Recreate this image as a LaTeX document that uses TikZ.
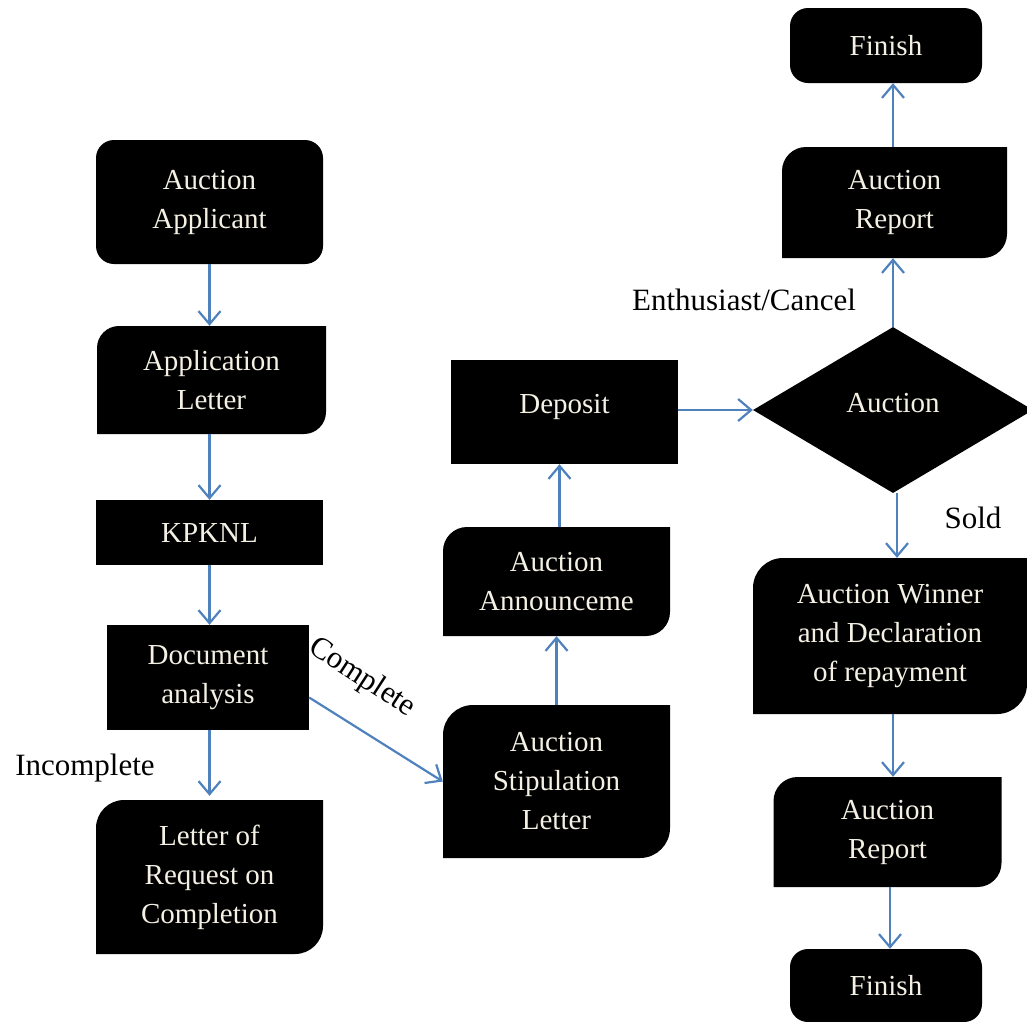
\documentclass[tikz,border=0pt]{standalone}
\usepackage{fontspec}
\setmainfont{Liberation Serif}
\usetikzlibrary{arrows.meta,shapes.geometric}
\definecolor{arrowblue}{HTML}{4F81BD}
\definecolor{boxtext}{HTML}{F4F1E4}
% shape with rounded top-left and bottom-right corners: x1 y1 x2 y2 r (y grows downward)
\newcommand\rdshape[5]{%
  \fill[black] ({#1},{#2+#5}) .. controls ({#1},{#2+0.448*#5}) and ({#1+0.448*#5},{#2}) .. ({#1+#5},{#2})
    -- ({#3},{#2}) -- ({#3},{#4-#5})
    .. controls ({#3},{#4-0.448*#5}) and ({#3-0.448*#5},{#4}) .. ({#3-#5},{#4})
    -- ({#1},{#4}) -- cycle;}
\begin{document}
\begin{tikzpicture}[x=1pt,y=-1pt,
  box/.style={inner sep=0pt, text=boxtext, align=center, font=\fontsize{29}{39}\selectfont},
  sqbox/.style={box, fill=black},
  rndbox/.style={box, fill=black, rounded corners=18pt},
  diabox/.style={box, fill=black, shape=diamond},
  flow/.style={draw=arrowblue, line width=2.2pt, -{Straight Barb[length=13pt,width=22pt,line width=2.2pt]}},
  lbl/.style={font=\fontsize{31}{37}\selectfont, text=black, inner sep=0pt}]
\path[use as bounding box, clip] (0,0) rectangle (1027,1021);

% shapes with two rounded corners
\rdshape{97}{326}{326}{434}{22}
\rdshape{96}{800}{323}{954}{28}
\rdshape{443}{705}{670}{858}{30}
\rdshape{443}{527}{670}{636}{24}
\rdshape{782}{147}{1007}{258}{24}
\rdshape{753}{558}{1027}{714}{30}
\rdshape{773.5}{777}{1001.5}{887}{24}

% left column
\node[rndbox, minimum width=227, minimum height=124] (app) at (209.5,202) {Auction\\Applicant};
\node[box, minimum width=229, minimum height=108] (alet) at (211.5,380) {Application\\Letter};
\node[sqbox, minimum width=227, minimum height=65] (kpk) at (209.5,532.5) {KPKNL};
\node[sqbox, minimum width=202, minimum height=105] (doc) at (208,677.5) {Document\\analysis};
\node[box, minimum width=227, minimum height=154] (req) at (209.5,877) {Letter of\\Request on\\Completion};

% middle column
\node[box, minimum width=227, minimum height=153] (stip) at (556.5,781.5) {Auction\\Stipulation\\Letter};
\node[box, minimum width=227, minimum height=109] (ann) at (556.5,581.5) {Auction\\Announceme};
\node[sqbox, minimum width=227, minimum height=104] (dep) at (564.5,412) {\raisebox{17pt}{Deposit}};

% right column
\node[diabox, minimum width=280, minimum height=166] (dia) at (893,410) {\raisebox{15pt}{Auction}};
\node[box, minimum width=225, minimum height=111] (rep1) at (894.5,202.5) {Auction\\Report};
\node[rndbox, minimum width=192, minimum height=75] (fin1) at (886,45.5) {Finish};
\node[box, minimum width=274, minimum height=156] (win) at (890,636) {Auction Winner\\and Declaration\\of repayment};
\node[box, minimum width=228, minimum height=110] (rep2) at (887.5,832) {Auction\\Report};
\node[rndbox, minimum width=192, minimum height=73] (fin2) at (886,985.5) {Finish};

% labels
\node[lbl] (lincomp) at (85,768) {Incomplete};
\node[lbl, rotate=-33] (lcomp) at (362,678) {Complete};
\node[lbl] (lenth) at (744,300) {Enthusiast/Cancel};
\node[lbl] (lsold) at (973,518) {Sold};

% connectors
\draw[flow] (app.south) -- (app.south |- alet.north);
\draw[flow] (alet.south -| app.south) -- (kpk.north);
\draw[flow] (kpk.south) -- (kpk.south |- doc.north);
\draw[flow] (doc.south -| kpk.south) -- ([yshift=4pt]req.north);
\draw[flow] ([yshift=-20pt]doc.east) -- (stip.west);
\draw[flow] (stip.north) -- (ann.south);
\draw[flow] ([xshift=3pt]ann.north) -- ([xshift=3pt]ann.north |- dep.south);
\draw[flow] ([yshift=2pt]dep.east) -- ([yshift=2pt]dep.east -| dia.west);
\draw[flow] (dia.north) -- (dia.north |- rep1.south);
\draw[flow] (rep1.north -| dia.north) -- (dia.north |- fin1.south);
\draw[flow] ([xshift=4pt]dia.south) -- ([xshift=4pt]dia.south |- win.north);
\draw[flow] (win.south -| dia.south) -- (rep2.north -| dia.south);
\draw[flow] ([xshift=-3pt]rep2.south -| dia.south) -- ([xshift=-3pt]fin2.north -| dia.south);
\end{tikzpicture}
\end{document}
